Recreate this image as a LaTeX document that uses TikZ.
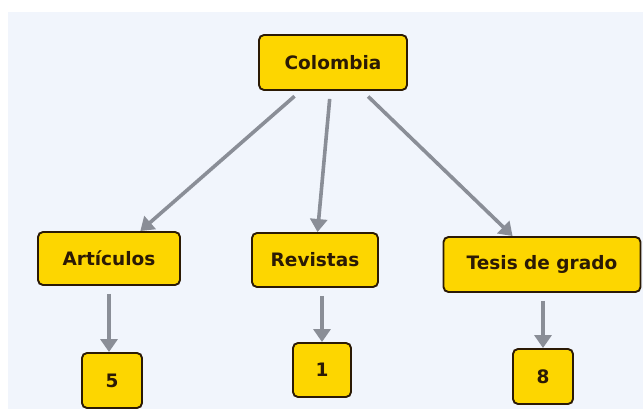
\documentclass[tikz,border=0pt]{standalone}
\usepackage{fontspec}
\setmainfont{DejaVu Sans}
\usepackage{xcolor}
\usepackage{tikz}
\usetikzlibrary{arrows.meta}

\definecolor{panel}{HTML}{F1F5FC}
\definecolor{gold}{HTML}{FDD600}
\definecolor{edgegray}{HTML}{8A8E97}
\definecolor{ink}{HTML}{2B1A05}

\begin{document}
\begin{tikzpicture}[x=1pt, y=-1pt,
  box/.style={draw=ink, line width=1.9pt, fill=gold, rounded corners=5pt,
    text=ink, font=\fontsize{18.5}{20}\selectfont\bfseries, inner sep=0pt},
  arr/.style={draw=edgegray, line width=3.6pt, shorten <=8pt,
    -{Triangle[width=17pt,length=13pt]}}]
\useasboundingbox (0,0) rectangle (643,409);
\fill[white] (0,0) rectangle (643,409);
\fill[panel] (8,12) rectangle (643,409);
\node[box, minimum width=148pt, minimum height=55pt] (colombia) at (333, 62.5) {Colombia};
\node[box, minimum width=142pt, minimum height=53pt] (articulos) at (109, 258.5) {Artículos};
\node[box, minimum width=126pt, minimum height=54pt] (revistas) at (315, 260) {Revistas};
\node[box, minimum width=197pt, minimum height=55pt] (tesis) at (542, 264.5) {Tesis de grado};
\node[box, minimum width=60pt, minimum height=55pt] (n5) at (112, 380.5) {5};
\node[box, minimum width=58pt, minimum height=54pt] (n1) at (322, 370) {1};
\node[box, minimum width=60pt, minimum height=55pt] (n8) at (543, 376.5) {8};
\draw (colombia) edge[arr] (articulos);
\draw (colombia) edge[arr] (revistas);
\draw (colombia) edge[arr] (tesis);
\draw (articulos.south) edge[arr] (articulos.south |- n5.north);
\draw (n1 |- revistas.south) edge[arr] (n1);
\draw (n8 |- tesis.south) edge[arr] (n8);
\end{tikzpicture}
\end{document}
